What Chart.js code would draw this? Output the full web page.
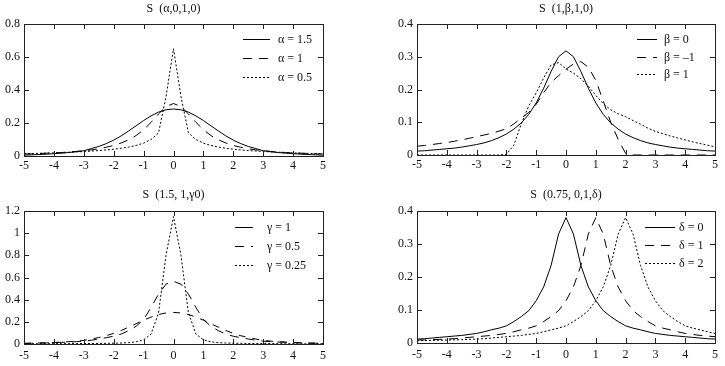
<!DOCTYPE html>
<html>
<head>
<meta charset="utf-8">
<script src="https://cdn.jsdelivr.net/npm/chart.js@4.4.1/dist/chart.umd.min.js"></script>
<style>
  html, body { margin: 0; padding: 0; background: #fff; }
  #wrap { position: relative; width: 725px; height: 366px; }
  .box { position: absolute; }
</style>
</head>
<body>
<div id="wrap">
  <div class="box" style="left:0;top:0;width:362px;height:180px"><canvas id="c1"></canvas></div>
  <div class="box" style="left:362px;top:0;width:363px;height:180px"><canvas id="c2"></canvas></div>
  <div class="box" style="left:0;top:180px;width:362px;height:186px"><canvas id="c3"></canvas></div>
  <div class="box" style="left:362px;top:180px;width:363px;height:186px"><canvas id="c4"></canvas></div>
</div>
<script>
// x grid shared by every curve
const xs = [-5, -4.75, -4.5, -4.25, -4, -3.75, -3.5, -3.25, -3, -2.75, -2.5, -2.25, -2, -1.75, -1.5, -1.25, -1, -0.75, -0.5, -0.25,
  0, 0.25, 0.5, 0.75, 1, 1.25, 1.5, 1.75, 2, 2.25, 2.5, 2.75, 3, 3.25, 3.5, 3.75, 4, 4.25, 4.5, 4.75, 5];

// S(alpha,0,1,0)
const alpha15 = [0.005,0.007,0.009,0.011,0.014,0.017,0.021,0.026,0.032,0.045,0.058,0.075,0.096,0.122,0.152,0.183,0.215,0.243,0.266,0.28,
  0.285,0.28,0.266,0.243,0.215,0.183,0.152,0.122,0.096,0.075,0.058,0.045,0.032,0.026,0.021,0.017,0.014,0.011,0.009,0.007,0.005];
const alpha1 = [0.012,0.013,0.015,0.017,0.019,0.021,0.024,0.028,0.032,0.037,0.044,0.053,0.064,0.079,0.098,0.124,0.159,0.204,0.255,0.3,
  0.318,0.3,0.255,0.204,0.159,0.124,0.098,0.079,0.064,0.053,0.044,0.037,0.032,0.028,0.024,0.021,0.019,0.017,0.015,0.013,0.012];
const alpha05 = [0.014,0.015,0.016,0.017,0.019,0.021,0.023,0.025,0.027,0.03,0.033,0.037,0.041,0.047,0.054,0.064,0.078,0.1,0.14,0.36,
  0.65,0.36,0.14,0.1,0.078,0.064,0.054,0.047,0.041,0.037,0.033,0.03,0.027,0.025,0.023,0.021,0.019,0.017,0.016,0.015,0.014];

// S(1,beta,1,0)
const beta0 = [0.012,0.013,0.015,0.017,0.019,0.021,0.024,0.028,0.032,0.037,0.044,0.053,0.064,0.079,0.098,0.124,0.159,0.204,0.255,0.3,
  0.318,0.3,0.255,0.204,0.159,0.124,0.098,0.079,0.064,0.053,0.044,0.037,0.032,0.028,0.024,0.021,0.019,0.017,0.015,0.013,0.012];
const betaM1 = [0.027,0.029,0.032,0.035,0.038,0.042,0.046,0.051,0.056,0.061,0.066,0.073,0.08,0.095,0.113,0.13,0.155,0.19,0.222,0.242,
  0.262,0.278,0.285,0.268,0.228,0.165,0.1,0.048,0.005,0,0,0,0,0,0,0,0,0,0,0,0];
const beta1 = [0,0,0,0,0,0,0,0,0,0,0,0,0.002,0.03,0.095,0.15,0.19,0.235,0.275,0.282,
  0.263,0.25,0.233,0.21,0.182,0.157,0.138,0.126,0.117,0.105,0.094,0.082,0.072,0.065,0.058,0.052,0.046,0.04,0.035,0.03,0.025];

// S(1.5,1,gamma,0)
const gamma1 = [0.005,0.007,0.009,0.011,0.014,0.017,0.021,0.026,0.032,0.045,0.058,0.075,0.096,0.122,0.152,0.183,0.215,0.243,0.266,0.28,
  0.285,0.28,0.266,0.243,0.215,0.183,0.152,0.122,0.096,0.075,0.058,0.045,0.032,0.026,0.021,0.017,0.014,0.011,0.009,0.007,0.005];
const gamma05 = [0.006,0.007,0.008,0.01,0.012,0.015,0.018,0.021,0.025,0.034,0.045,0.057,0.07,0.09,0.12,0.16,0.22,0.33,0.45,0.54,
  0.565,0.54,0.45,0.33,0.22,0.16,0.12,0.09,0.07,0.057,0.045,0.034,0.025,0.021,0.018,0.015,0.012,0.01,0.008,0.007,0.006];
const gamma025 = [0.002,0.002,0.002,0.002,0.003,0.003,0.003,0.004,0.004,0.005,0.005,0.006,0.007,0.009,0.012,0.02,0.038,0.09,0.28,0.8,
  1.15,0.8,0.28,0.09,0.038,0.02,0.012,0.009,0.007,0.006,0.005,0.005,0.004,0.004,0.003,0.003,0.003,0.002,0.002,0.002,0.002];

// S(0.75,0,1,delta)
const delta0 = [0.012,0.013,0.015,0.017,0.019,0.021,0.023,0.026,0.029,0.034,0.04,0.045,0.052,0.065,0.08,0.098,0.128,0.17,0.235,0.33,
  0.38,0.33,0.235,0.17,0.128,0.098,0.08,0.065,0.052,0.045,0.04,0.034,0.029,0.026,0.023,0.021,0.019,0.017,0.015,0.013,0.012];
const delta1 = [0.009,0.0095,0.01,0.011,0.012,0.013,0.015,0.017,0.019,0.021,0.023,0.026,0.029,0.034,0.04,0.045,0.052,0.065,0.08,0.098,
  0.128,0.17,0.235,0.33,0.38,0.33,0.235,0.17,0.128,0.098,0.08,0.065,0.052,0.045,0.04,0.034,0.029,0.026,0.023,0.021,0.019];
const delta2 = [0.007,0.0075,0.008,0.0085,0.009,0.0095,0.01,0.011,0.012,0.013,0.015,0.017,0.019,0.021,0.023,0.026,0.029,0.034,0.04,0.045,
  0.052,0.065,0.08,0.098,0.128,0.17,0.235,0.33,0.38,0.33,0.235,0.17,0.128,0.098,0.08,0.065,0.052,0.045,0.04,0.034,0.029];

const SERIF = '"Liberation Serif", "Times New Roman", serif';
Chart.defaults.font.family = SERIF;
Chart.defaults.color = '#111';

const SOLID = [];
const DASH = [9, 7];
const DOT = [2, 2];

// box around the plot with inward ticks on all four sides
const frame = {
  id: 'frame',
  afterDraw(chart) {
    const { ctx, chartArea: a, scales } = chart;
    const x = scales.x, y = scales.y;
    ctx.save();
    ctx.strokeStyle = '#222';
    ctx.lineWidth = 1;
    ctx.setLineDash([]);
    ctx.strokeRect(Math.round(a.left) + 0.5, Math.round(a.top) + 0.5,
      Math.round(a.right - a.left), Math.round(a.bottom - a.top));
    ctx.beginPath();
    x.ticks.forEach((t, i) => {
      const px = Math.round(x.getPixelForTick(i)) + 0.5;
      ctx.moveTo(px, a.bottom); ctx.lineTo(px, a.bottom - 5);
      ctx.moveTo(px, a.top); ctx.lineTo(px, a.top + 5);
    });
    y.ticks.forEach((t, i) => {
      const py = Math.round(y.getPixelForTick(i)) + 0.5;
      ctx.moveTo(a.left, py); ctx.lineTo(a.left + 5, py);
      ctx.moveTo(a.right, py); ctx.lineTo(a.right - 5, py);
    });
    ctx.stroke();
    ctx.restore();
  }
};

// legend drawn inside the plot, top right
const insideLegend = {
  id: 'insideLegend',
  afterDatasetsDraw(chart, args, o) {
    const { ctx, chartArea: a } = chart;
    ctx.save();
    ctx.font = '12px ' + SERIF;
    ctx.textBaseline = 'middle';
    ctx.fillStyle = '#111';
    chart.data.datasets.forEach((ds, i) => {
      const yy = Math.round(a.top + o.top + i * o.gap) + 0.5;
      const x0 = a.right - o.lineFrom;
      ctx.beginPath();
      ctx.setLineDash(ds.legendDash || ds.borderDash || []);
      ctx.lineWidth = 1;
      ctx.strokeStyle = '#000';
      ctx.moveTo(x0, yy);
      ctx.lineTo(x0 + o.lineLen, yy);
      ctx.stroke();
      ctx.fillText(ds.label, a.right - o.textFrom, yy);
    });
    ctx.restore();
  }
};

function series(label, ys, dash, legendDash) {
  return {
    label: label,
    data: xs.map((x, i) => ({ x: x, y: ys[i] })),
    borderColor: '#000',
    borderWidth: 1,
    borderDash: dash,
    legendDash: legendDash,
    pointRadius: 0,
    tension: 0,
    fill: false
  };
}

// 0, 0.2, 1, 1.2 instead of 1.0
const plainNum = (v) => String(Number(v.toFixed(2)));

function makeChart(id, p) {
  new Chart(document.getElementById(id), {
    type: 'line',
    data: { datasets: p.datasets },
    plugins: [frame, insideLegend],
    options: {
      responsive: true,
      maintainAspectRatio: false,
      animation: false,
      layout: { padding: { left: 0, right: p.padRight, top: 0, bottom: 0 } },
      plugins: {
        legend: { display: false },
        tooltip: { enabled: false },
        title: {
          display: true,
          text: p.title,
          fullSize: false,
          color: '#111',
          font: { family: SERIF, size: 12, weight: 'normal', lineHeight: 1.2 },
          padding: p.titlePad
        },
        insideLegend: p.legend
      },
      scales: {
        x: {
          type: 'linear',
          min: -5, max: 5,
          grid: { display: false, drawTicks: false },
          border: { display: false },
          ticks: { stepSize: 1, padding: p.xPad, font: { size: 12 }, color: '#111', maxRotation: 0, callback: plainNum },
          afterFit: (s) => { s.height = p.xHeight; }
        },
        y: {
          min: 0, max: p.yMax,
          grid: { display: false, drawTicks: false },
          border: { display: false },
          ticks: { stepSize: p.yStep, padding: 4, font: { size: 12 }, color: '#111', callback: plainNum },
          afterFit: (s) => { s.width = p.yWidth; }
        }
      }
    }
  });
}

makeChart('c1', {
  title: 'S  (\u03b1,0,1,0)',
  titlePad: { top: 1.8, bottom: 7.8 },
  padRight: 39, yWidth: 24, xHeight: 24, xPad: 3,
  yMax: 0.8, yStep: 0.2,
  legend: { top: 15, gap: 19, lineFrom: 80, lineLen: 27, textFrom: 45 },
  datasets: [
    series('\u03b1 = 1.5', alpha15, SOLID),
    series('\u03b1 = 1', alpha1, DASH),
    series('\u03b1 = 0.5', alpha05, DOT)
  ]
});

makeChart('c2', {
  title: 'S  (1,\u03b2,1,0)',
  titlePad: { top: 1.8, bottom: 7.8 },
  padRight: 10, yWidth: 55, xHeight: 25, xPad: 3,
  yMax: 0.4, yStep: 0.1,
  legend: { top: 15, gap: 17.5, lineFrom: 78, lineLen: 20, textFrom: 51 },
  datasets: [
    series('\u03b2 = 0', beta0, SOLID),
    series('\u03b2 = \u20131', betaM1, DASH),
    series('\u03b2 = 1', beta1, DOT)
  ]
});

makeChart('c3', {
  title: 'S  (1.5, 1,\u03b30)',
  titlePad: { top: 7.8, bottom: 8.8 },
  padRight: 39, yWidth: 24, xHeight: 22, xPad: 5,
  yMax: 1.2, yStep: 0.2,
  legend: { top: 16, gap: 19, lineFrom: 88, lineLen: 18, textFrom: 56 },
  datasets: [
    series('\u03b3 = 1', gamma1, [7, 7], SOLID),
    series('\u03b3 = 0.5', gamma05, DASH),
    series('\u03b3 = 0.25', gamma025, DOT)
  ]
});

makeChart('c4', {
  title: 'S  (0.75, 0,1,\u03b4)',
  titlePad: { top: 7.8, bottom: 8.8 },
  padRight: 10, yWidth: 55, xHeight: 23, xPad: 5,
  yMax: 0.4, yStep: 0.1,
  legend: { top: 16, gap: 18, lineFrom: 70, lineLen: 30, textFrom: 36 },
  datasets: [
    series('\u03b4 = 0', delta0, SOLID),
    series('\u03b4 = 1', delta1, DASH),
    series('\u03b4 = 2', delta2, DOT)
  ]
});
</script>
</body>
</html>
